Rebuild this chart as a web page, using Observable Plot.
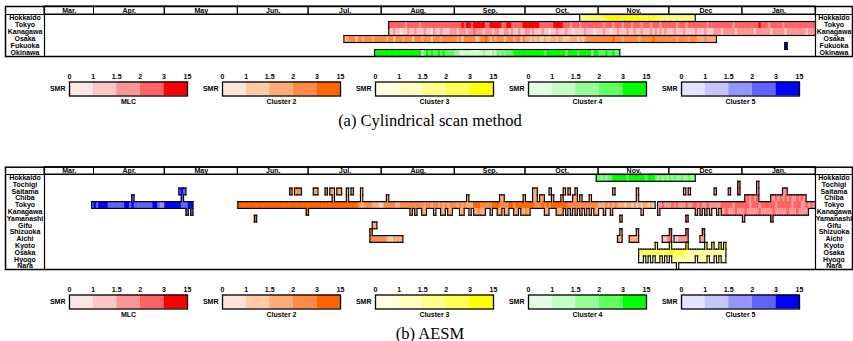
<!DOCTYPE html>
<html><head><meta charset="utf-8">
<script src="https://cdn.jsdelivr.net/npm/d3@7"></script>
<script src="https://cdn.jsdelivr.net/npm/@observablehq/plot@0.6"></script>
<style>
body{margin:0;background:#fff;}
#root{position:relative;width:853px;height:341px;overflow:hidden;}
.blk{position:absolute;left:0;}
.cap{position:absolute;left:0;width:860px;text-align:center;font-family:"Liberation Serif",serif;font-size:16.5px;line-height:17px;color:#000;}
</style></head><body><div id="root"></div>
<script>
// ---------- data ----------
const monthNames = ["Mar.","Apr.","May","Jun.","Jul.","Aug.","Sep.","Oct.","Nov.","Dec","Jan."];
const monthStarts = ["2020-03-11","2020-04-01","2020-05-01","2020-06-01","2020-07-01","2020-08-01","2020-09-01","2020-10-01","2020-11-01","2020-12-01","2021-01-01","2021-02-01"];
const rowsA = ["Hokkaido","Tokyo","Kanagawa","Osaka","Fukuoka","Okinawa"];
const rowsB = ["Hokkaido","Tochigi","Saitama","Chiba","Tokyo","Kanagawa","Yamanashi","Gifu","Shizuoka","Aichi","Kyoto","Osaka","Hyogo","Nara"];
const clusterNames = ["MLC","Cluster 2","Cluster 3","Cluster 4","Cluster 5"];
const smrTicks = ["0","1","1.5","2","3","15"];
const clusterColors = {
  "MLC":       ["#ffe4e4","#ffc6c6","#ff9595","#ff6262","#ff0000"],
  "Cluster 2": ["#ffe4d8","#ffcaa6","#ffab78","#ff8a45","#ff6600"],
  "Cluster 3": ["#ffffe0","#ffffc0","#ffff8a","#ffff55","#ffff00"],
  "Cluster 4": ["#e2ffe2","#c6ffc6","#95ff95","#62ff62","#00ff00"],
  "Cluster 5": ["#e4e4ff","#c6c6ff","#9595ff","#6262ff","#0000ff"]
};
// [cluster, prefecture, first day, SMR class per consecutive day ("." = day not in the cluster)]
const segmentsA = [
  ["Cluster 3","Hokkaido","2020-10-24","2222 3333 33344 44444 34444 44434 34343 33232 32232 23222 2"],
  ["MLC","Tokyo","2020-08-04","33333 33233 33323 33333 33333 333 33343 44344 44433 44444 33443 33334 44444 43333 33444 43332 33323 33333 3 33233 32333 23332 33323 33233 32333 33323 33233 33333 32333 33333 33233 3 33333 33433 32333 33233 33333 33333 3"],
  ["MLC","Kanagawa","2020-08-04","11211 01121 12111 21102 11211 122 21222 12232 22122 21221 12212 11211 22121 11211 01121 11211 01111 21110 1 11211 01121 11211 21121 11212 12121 11211 12111 12111 21112 22122 22212 2 22222 12222 22122 22212 22222 22122 2"],
  ["Cluster 2","Osaka","2020-07-16","12333 13323 33233 3 33233 13332 33313 33233 31333 23333 3 32313 33331 23343 13233 31333 23313 22121 21121 12212 21112 22121 23333 3 33333 34333 23333 33233 33343 33333 33323 33323 33222 32222"],
  ["Cluster 5","Fukuoka","2021-01-19","4"],
  ["Cluster 4","Okinawa","2020-07-29","444 44444 44444 44444 44034 34334 34333 3 22101 11010 11211 02132 32333 44444 44444 44434 44444 44244 44344 44414 4 33343 3433"]
];
const segmentsB = [
  ["Cluster 5","Tokyo","2020-03-31","343 4444 3333333 44 3 4 33333333 44 3 22 4444444 333 44"],
  ["Cluster 5","Chiba","2020-04-17","3"],
  ["Cluster 5","Saitama","2020-05-07","343"],
  ["Cluster 5","Chiba","2020-05-08","3"],
  ["Cluster 5","Kanagawa","2020-05-10","3.3"],
  ["Cluster 4","Hokkaido","2020-10-31","3 32323 34444 44344 44444 34443 23232 32322 32232 2"],
  ["Cluster 2","Tokyo","2020-06-01","44444 44444 44444 44444 44444 44444 44444 44444 44444 44444 4 3 22 333 222 1 13333 32233 33333 33323 32332 32323 3 32323 22244 43333 34443 33344 34444 4444 333 43434 444444 3333333333333 22232 32322 21221 21212 2121"],
  ["Cluster 2","Yamanashi","2020-06-08","4"],
  ["Cluster 2","Saitama","2020-06-23","3.333"],
  ["Cluster 2","Kanagawa","2020-06-30","4"],
  ["Cluster 2","Saitama","2020-07-03","22...3.22.22..2.2...1"],
  ["Cluster 2","Chiba","2020-07-11","2.....2.....1"],
  ["Cluster 2","Shizuoka","2020-07-27","3"],
  ["Cluster 2","Aichi","2020-07-27","33333332112222"],
  ["Cluster 2","Gifu","2020-07-28","22"],
  ["Cluster 2","Chiba","2020-08-03","2"],
  ["Cluster 2","Kanagawa","2020-08-13","2.2..22...2..22.22...22..2.22322..2..22.22..22.2232"],
  ["Cluster 2","Chiba","2020-09-06","2.............22........2...22.22...2...2....22.2...2"],
  ["Cluster 2","Saitama","2020-10-04","22.....2.....2.2..2"],
  ["Cluster 2","Kanagawa","2020-10-09","22...222.2.2.2.2.2.2.22..2..2"],
  ["Cluster 2","Saitama","2020-11-07","2"],
  ["Cluster 2","Aichi","2020-11-09","22...2222"],
  ["Cluster 2","Yamanashi","2020-11-10","3"],
  ["Cluster 2","Shizuoka","2020-11-10","2......2"],
  ["Cluster 2","Saitama","2020-11-17","2"],
  ["Cluster 2","Chiba","2020-11-17","2"],
  ["Cluster 2","Kanagawa","2020-11-19","1"],
  ["MLC","Tokyo","2020-11-26","22322 23232 22322 33232 23222 22 33333 23333 33233 32333 33323 33333 23332 23232"],
  ["MLC","Kanagawa","2020-11-26","2"],
  ["MLC","Aichi","2020-11-28","1123.112222.....12"],
  ["MLC","Shizuoka","2020-12-01","3......3......3"],
  ["MLC","Saitama","2020-12-07","2.2"],
  ["MLC","Yamanashi","2020-12-08","3"],
  ["MLC","Kanagawa","2020-12-12","2.2.2.2..2.22322 23222 32222 23222 22322 22232 22322 22"],
  ["MLC","Saitama","2020-12-20","2.....2...3.......2..........22"],
  ["MLC","Tochigi","2020-12-30","3.......2"],
  ["MLC","Yamanashi","2021-01-01","2...........3"],
  ["MLC","Chiba","2021-01-02","232323.....22323 23232 23232"],
  ["Cluster 3","Osaka","2020-11-18","23233 32333 23334 33433 21212 12211 21212 11"],
  ["Cluster 3","Kyoto","2020-11-25","4.....4......4.......4..4..4.4"],
  ["Cluster 3","Hyogo","2020-11-18","11.2. 1.21. 2.1.2 12121 2112. 1212. 11.2. 11"],
  ["Cluster 3","Nara","2020-12-04","1"]
];

// ---------- helpers ----------
const parse = s => new Date(s + "T00:00:00Z");
const START = parse(monthStarts[0]), END = parse(monthStarts[monthStarts.length - 1]);
const FONT = "'Liberation Sans', Arial, sans-serif";

function expand(segs, rows) {
  const cells = [];
  for (const [c, r, s, lv] of segs) {
    const str = lv.replace(/\s+/g, "");
    const t0 = parse(s);
    for (let i = 0; i < str.length; i++) {
      if (str[i] === ".") continue;
      const a = d3.utcDay.offset(t0, i);
      if (a >= END) break;
      cells.push({cluster: c, ri: rows.indexOf(r), x1: a, x2: d3.utcDay.offset(a, 1), color: clusterColors[c][+str[i]]});
    }
  }
  return cells.sort((a, b) => a.ri - b.ri || a.x1 - b.x1);
}
function outline(cells) {
  const key = (c, t, r) => c + "|" + t + "|" + r;
  const set = new Set(cells.map(d => key(d.cluster, +d.x1, d.ri)));
  const out = [];
  for (const d of cells) {
    const t = +d.x1, prev = +d3.utcDay.offset(d.x1, -1), next = +d.x2;
    if (!set.has(key(d.cluster, prev, d.ri))) out.push({x1: d.x1, x2: d.x1, y1: d.ri, y2: d.ri + 1});
    if (!set.has(key(d.cluster, next, d.ri))) out.push({x1: d.x2, x2: d.x2, y1: d.ri, y2: d.ri + 1});
    if (!set.has(key(d.cluster, t, d.ri - 1))) out.push({x1: d.x1, x2: d.x2, y1: d.ri, y2: d.ri});
    if (!set.has(key(d.cluster, t, d.ri + 1))) out.push({x1: d.x1, x2: d.x2, y1: d.ri + 1, y2: d.ri + 1});
  }
  return out;
}
function panel(rows, segs, o) {
  const cells = expand(segs, rows);
  const edges = outline(cells);
  const months = monthNames.map((m, i) => ({name: m, x1: parse(monthStarts[i]), x2: parse(monthStarts[i + 1])}));
  const hdr = o.hdr;
  return Plot.plot({
    width: 853, height: o.height, marginLeft: 44, marginRight: 38, marginTop: o.mt, marginBottom: o.mb,
    style: {fontFamily: FONT, fontSize: o.fs + "px", fontWeight: "bold", background: "transparent"},
    x: {type: "utc", domain: [START, END], axis: null},
    y: {domain: [-hdr, rows.length], reverse: true, axis: null},
    color: {type: "identity"},
    marks: [
      Plot.rect(cells, {x1: "x1", x2: "x2", y1: "ri", y2: d => d.ri + 1, fill: "color", insetRight: -0.5, insetBottom: -0.5}),
      Plot.link(edges, {x1: "x1", x2: "x2", y1: "y1", y2: "y2", stroke: "#000", strokeWidth: 1.1, strokeLinecap: "square"}),
      Plot.rect(months, {x1: "x1", x2: "x2", y1: -hdr, y2: 0, fill: "none", stroke: "#000", strokeWidth: 1}),
      Plot.text(months, {x: d => new Date((+d.x1 + +d.x2) / 2), y: -hdr / 2, text: "name", fill: "#000", fontSize: 7, textAnchor: "middle"}),
      Plot.text(rows, {y: (d, i) => i + 0.5, frameAnchor: "left", dx: -19.5, textAnchor: "middle", text: d => d, fill: "#000"}),
      Plot.text(rows, {y: (d, i) => i + 0.5, frameAnchor: "right", dx: 18.5, textAnchor: "middle", text: d => d, fill: "#000"}),
      Plot.ruleX([START, END], {stroke: "#000", strokeWidth: 1.2}),
      Plot.ruleY([0], {insetLeft: -39, insetRight: -37, stroke: "#000", strokeWidth: 1.2}),
      Plot.frame({insetLeft: -39, insetRight: -37, stroke: "#000", strokeWidth: 1.5})
    ]
  });
}
function legend() {
  const cells = clusterNames.flatMap(c => clusterColors[c].map((col, i) => ({cluster: c, i, color: col})));
  return Plot.plot({
    width: 853, height: 40, marginLeft: 67, marginRight: 51, marginTop: 15.5, marginBottom: 10.5,
    style: {fontFamily: FONT, fontSize: "7px", fontWeight: "bold", background: "transparent"},
    fx: {domain: clusterNames, paddingInner: 0.227, paddingOuter: 0},
    x: {domain: [0, 5]},
    color: {type: "identity"},
    marks: [
      Plot.rect(cells, {fx: "cluster", x1: "i", x2: d => d.i + 1, fill: "color"}),
      Plot.frame({stroke: "#000", strokeWidth: 1.3}),
      Plot.axisX({ticks: [0, 1, 2, 3, 4, 5], anchor: "top", tickSize: 0, tickPadding: 3, tickFormat: i => smrTicks[i], label: null}),
      Plot.axisFx({anchor: "bottom", tickSize: 0, tickPadding: 3, label: null}),
      Plot.text(clusterNames, {fx: d => d, frameAnchor: "left", dx: -4, textAnchor: "end", text: () => "SMR"})
    ]
  });
}
function place(node, top) { node.classList.add("blk"); node.style.top = top + "px"; document.getElementById("root").appendChild(node); }
function caption(text, top) { const d = document.createElement("div"); d.className = "cap"; d.style.top = top + "px"; d.textContent = text; document.getElementById("root").appendChild(d); }

place(panel(rowsA, segmentsA, {height: 58, mt: 6, mb: 2, hdr: 8 / 7, fs: 7}), 0);
place(legend(), 66);
caption("(a) Cylindrical scan method", 111.5);
place(panel(rowsB, segmentsB, {height: 111, mt: 6.7, mb: 2, hdr: 7.3 / 6.786, fs: 7}), 160);
place(legend(), 279);
caption("(b) AESM", 324.5);
</script></body></html>
